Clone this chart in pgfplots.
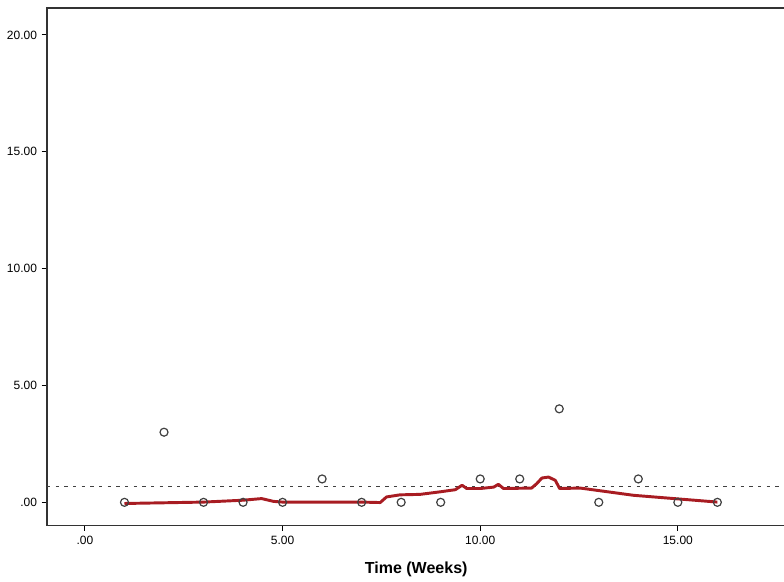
\documentclass[border=0pt]{standalone}
\usepackage{fontspec}
\setmainfont{Liberation Sans}
\usepackage{pgfplots}
\pgfplotsset{compat=1.18}
\definecolor{fitred}{HTML}{A81C22}
\definecolor{ptgray}{HTML}{404040}

\begin{document}
\begin{tikzpicture}
\begin{axis}[
    scale only axis,
    width=553.5pt, height=387.75pt,
    xmin=-0.96, xmax=17.72,
    ymin=-0.98, ymax=21.15,
    xtick={0,5,10,15}, xticklabels={.00,5.00,10.00,15.00},
    ytick={0,5,10,15,20}, yticklabels={.00,5.00,10.00,15.00,20.00},
    xtick pos=bottom, ytick pos=left,
    tick align=outside, major tick length=4pt,
    tick style={black, line width=0.8pt},
    axis line style={draw=black!80, line width=1pt},
    ticklabel style={font=\fontsize{9}{10}\selectfont},
    xticklabel style={yshift=-1pt},
    xlabel={\textbf{Time (Weeks)}},
    xlabel style={font=\fontsize{12}{14}\selectfont, yshift=-6pt},
    clip=false,
]
  % mean reference line
  \addplot[black!75, line width=0.8pt, dash pattern=on 2.5pt off 4pt, forget plot]
    coordinates {(-0.96,0.6875) (17.72,0.6875)};
  % loess fit
  \addplot[fitred, line width=2.2pt, line join=round] coordinates {
    (1.0,-0.05) (3.0,0.01) (4.0,0.09) (4.47,0.16) (4.77,0.04) (5.0,0.01)
    (7.0,0.01) (7.47,-0.01) (7.63,0.23) (7.97,0.32) (8.48,0.34) (8.99,0.45)
    (9.37,0.54) (9.54,0.73) (9.66,0.59) (10.0,0.59) (10.34,0.65) (10.46,0.77)
    (10.59,0.59) (11.3,0.61) (11.43,0.80) (11.56,1.04) (11.73,1.08) (11.9,0.94)
    (12.01,0.59) (12.53,0.61) (13.88,0.30) (16.0,0.01)
  };
  % observations
  \addplot[only marks, mark=o, mark size=3pt, mark options={draw=ptgray, line width=0.9pt}]
    coordinates {
    (1,0) (2,3) (3,0) (4,0) (5,0) (6,1) (7,0) (8,0)
    (9,0) (10,1) (11,1) (12,4) (13,0) (14,1) (15,0) (16,0)
  };
\end{axis}
\pgfresetboundingbox
\path[use as bounding box] ([shift={(-35.25pt,-42pt)}]current axis.south west)
  rectangle ([shift={(-1pt,6pt)}]current axis.north east);
\end{tikzpicture}
\end{document}
